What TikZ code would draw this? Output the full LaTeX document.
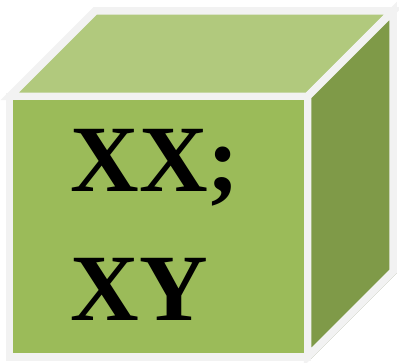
\documentclass[tikz,border=0pt]{standalone}
\usepackage{fontspec}
\setmainfont{Liberation Serif}
\definecolor{verdeFrente}{RGB}{155,187,89}
\definecolor{verdeTapa}{RGB}{177,201,125}
\definecolor{verdeLado}{RGB}{127,154,72}
\definecolor{bordeClaro}{RGB}{242,242,242}
\definecolor{sombra}{RGB}{150,158,130}
\usetikzlibrary{positioning,calc}

\begin{document}
\begin{tikzpicture}[x=1pt,y=1pt,
        cara/.style={draw=bordeClaro,line width=7.5pt,line join=miter},
        txt/.style={anchor=base west,inner sep=0pt,
                    font=\fontsize{95}{95}\selectfont\bfseries}]
        \useasboundingbox (0,0) rectangle (399,363);
        % esquinas del cubo
        \coordinate (fbl) at (9.5,6);
        \coordinate (fbr) at (307.5,6);
        \coordinate (ftr) at (307.5,266.5);
        \coordinate (ftl) at (9.5,266.5);
        \coordinate (btl) at (95,352);
        \coordinate (btr) at (393,352);
        \coordinate (bbr) at (393,91.5);
        % sombra
        \draw[sombra,line width=7.5pt,shift={(1.8,-1.8)}]
          (fbl)--(fbr)--(bbr)--(btr);
        % caras
        \draw[cara,fill=verdeTapa] (ftl)--(btl)--(btr)--(ftr)--cycle;
        \draw[cara,fill=verdeLado] (ftr)--(btr)--(bbr)--(fbr)--cycle;
        \draw[cara,fill=verdeFrente] (fbl) rectangle (ftr);
        \node[txt] (l1) at (70.5,171) {XX;};
        \node[txt] (l2) at (70.5,42) {XY};
      \end{tikzpicture}
\end{document}
